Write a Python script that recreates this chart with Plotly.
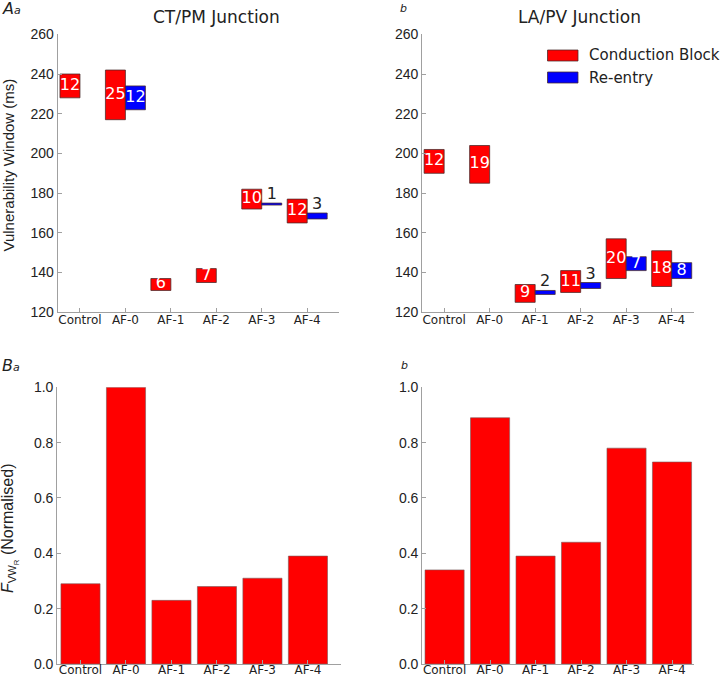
import plotly.graph_objects as go

# ---------------- data ----------------
categories = ["Control", "AF-0", "AF-1", "AF-2", "AF-3", "AF-4"]

# CT/PM junction: vulnerability windows (ms) - lower edge and width
ct_block_low = [228, 217, 131, 135, 172, 165]
ct_block_width = [12, 25, 6, 7, 10, 12]
ct_reentry_low = [None, 222, None, None, 174, 167]
ct_reentry_width = [None, 12, None, None, 1, 3]

# LA/PV junction
la_block_low = [190, 185, 125, 130, 137, 133]
la_block_width = [12, 19, 9, 11, 20, 18]
la_reentry_low = [None, None, 129, 132, 141, 137]
la_reentry_width = [None, None, 2, 3, 7, 8]

# normalised F_VW_R
ct_fvw = [0.29, 1.0, 0.23, 0.28, 0.31, 0.39]
la_fvw = [0.34, 0.89, 0.39, 0.44, 0.78, 0.73]

RED = "#ff0000"
BLUE = "#0000ff"
EDGE = "rgba(70,40,40,0.75)"
AXC = "#a0a0a0"
TXT = "#222222"
W = 720
H = 677

fig = go.Figure()


def window_traces(low, width, color, offset, xa, ya):
    xs, bases, ws = [], [], []
    for i, (b, w) in enumerate(zip(low, width)):
        if b is None:
            continue
        xs.append(i + offset)
        bases.append(b)
        ws.append(w)
    fig.add_trace(go.Bar(x=xs, y=ws, base=bases, width=0.44, marker_color=color,
                         marker_line_color=EDGE, marker_line_width=1,
                         xaxis=xa, yaxis=ya, showlegend=False, hoverinfo="skip"))
    # labels: inside (white) for wide windows, above (black) for narrow ones
    ix, iy, it, ox, oy, ot = [], [], [], [], [], []
    for x, b, w in zip(xs, bases, ws):
        if w >= 5:
            ix.append(x); iy.append(b + w / 2); it.append(str(w))
        else:
            ox.append(x); oy.append(b + w); ot.append(str(w))
    fig.add_trace(go.Scatter(x=ix, y=iy, text=it, mode="text", textposition="middle center",
                             textfont=dict(family="DejaVu Sans", size=16, color="white"),
                             xaxis=xa, yaxis=ya, showlegend=False, cliponaxis=False,
                             hoverinfo="skip"))
    if ox:
        fig.add_trace(go.Scatter(x=ox, y=oy, text=ot, mode="text", textposition="top center",
                                 textfont=dict(family="DejaVu Sans", size=16, color=TXT),
                                 xaxis=xa, yaxis=ya, showlegend=False, cliponaxis=False,
                                 hoverinfo="skip"))


window_traces(ct_block_low, ct_block_width, RED, -0.22, "x", "y")
window_traces(ct_reentry_low, ct_reentry_width, BLUE, 0.22, "x", "y")
window_traces(la_block_low, la_block_width, RED, -0.22, "x2", "y2")
window_traces(la_reentry_low, la_reentry_width, BLUE, 0.22, "x2", "y2")

idx = list(range(len(categories)))
fig.add_trace(go.Bar(x=idx, y=ct_fvw, width=0.86, marker_color=RED,
                     marker_line_color="rgba(120,90,90,0.6)", marker_line_width=1,
                     xaxis="x3", yaxis="y3", showlegend=False, hoverinfo="skip"))
fig.add_trace(go.Bar(x=idx, y=la_fvw, width=0.86, marker_color=RED,
                     marker_line_color="rgba(120,90,90,0.6)", marker_line_width=1,
                     xaxis="x4", yaxis="y4", showlegend=False, hoverinfo="skip"))


def px_x(a, b):
    return [a / W, b / W]


def px_y(top, bottom):
    return [1 - bottom / H, 1 - top / H]


xbase = dict(tickmode="array", tickvals=idx, ticktext=categories, showline=True,
             linecolor=AXC, linewidth=1.2, ticks="inside", ticklen=4, tickcolor=AXC,
             showgrid=False, zeroline=False, automargin=False,
             tickfont=dict(family="DejaVu Sans", size=12, color=TXT))
xtop = dict(xbase, ticklabelstandoff=-4)
xbot = dict(xbase, ticklabelstandoff=-6)
ycommon = dict(showline=True, linecolor=AXC, linewidth=1.2, ticks="inside", ticklen=4,
               tickcolor=AXC, showgrid=False, zeroline=False, automargin=False,
               tickfont=dict(family="Liberation Sans", size=14, color=TXT))

fig.update_layout(
    width=W, height=H, margin=dict(l=0, r=0, t=0, b=0),
    paper_bgcolor="white", plot_bgcolor="white", showlegend=False, barmode="overlay",
    xaxis=dict(domain=px_x(57.7, 339), range=[-0.49, 5.70], anchor="y", **xtop),
    yaxis=dict(domain=px_y(34.3, 312.3), range=[120, 260], dtick=20, anchor="x", **ycommon),
    xaxis2=dict(domain=px_x(422.3, 694), range=[-0.48, 5.49], anchor="y2", **xtop),
    yaxis2=dict(domain=px_y(34.3, 312.3), range=[120, 260], dtick=20, anchor="x2", **ycommon),
    xaxis3=dict(domain=px_x(57.3, 340.7), range=[-0.51, 5.72], anchor="y3", **xbot),
    yaxis3=dict(domain=px_y(387.3, 664), range=[0, 1.0], dtick=0.2, tickformat=".1f",
                anchor="x3", **ycommon),
    xaxis4=dict(domain=px_x(422.3, 694.3), range=[-0.49, 5.49], anchor="y4", **xbot),
    yaxis4=dict(domain=px_y(387.3, 664), range=[0, 1.0], dtick=0.2, tickformat=".1f",
                anchor="x4", **ycommon),
)

ann = []


def paper_text(text, x, y, size, family="DejaVu Sans", xanchor="center", angle=0):
    ann.append(dict(text=text, x=x / W, y=1 - y / H, xref="paper", yref="paper",
                    showarrow=False, xanchor=xanchor, yanchor="middle", textangle=angle,
                    borderpad=0,
                    font=dict(family=family, size=size, color=TXT)))


paper_text("CT/PM Junction", 216, 17, 17)
paper_text("LA/PV Junction", 579, 17, 17)
paper_text("<i>A<span style='font-size:11px'>a</span></i>", 1, 8, 16, xanchor="left")
paper_text("<i>b</i>", 399, 8, 11, xanchor="left")
paper_text("<i>B<span style='font-size:11px'>a</span></i>", 1, 365, 16, xanchor="left")
paper_text("<i>b</i>", 400, 365, 11, xanchor="left")
paper_text("Vulnerability Window (ms)", 8.5, 165, 15, family="Liberation Sans", angle=-90)
paper_text("<i>F</i><sub>VW<sub>R</sub></sub> (Normalised)", 10, 529, 16,
           family="Liberation Sans", angle=-90)

# legend (drawn manually)
paper_text("Conduction Block", 588, 55.5, 15, xanchor="left")
paper_text("Re-entry", 588, 77.5, 15, xanchor="left")
fig.update_layout(annotations=ann)

shapes = [
    dict(type="rect", xref="paper", yref="paper", x0=547.5 / W, x1=578 / W,
         y0=1 - 61 / H, y1=1 - 50 / H, fillcolor=RED, line=dict(color=EDGE, width=1)),
    dict(type="rect", xref="paper", yref="paper", x0=547.5 / W, x1=578 / W,
         y0=1 - 83 / H, y1=1 - 72 / H, fillcolor=BLUE, line=dict(color=EDGE, width=1)),
]
fig.update_layout(shapes=shapes)

fig.write_html("out.html", config={"displayModeBar": False},
               post_script="document.body.style.margin='0';document.body.style.overflow='hidden';")
